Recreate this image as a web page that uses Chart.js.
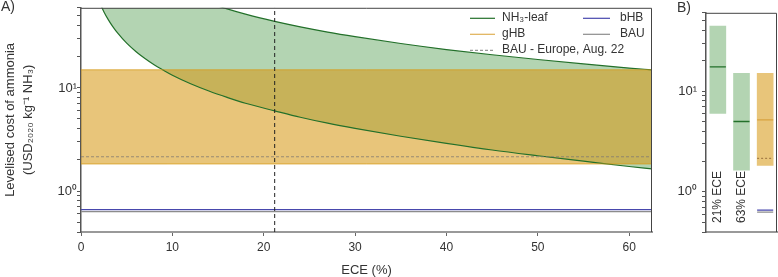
<!DOCTYPE html>
<html>
<head>
<meta charset="utf-8">
<script src="https://cdn.jsdelivr.net/npm/chart.js@4.4.1/dist/chart.umd.min.js"></script>
<style>
  html, body { margin: 0; padding: 0; background: #fff; }
  #wrap { position: relative; width: 778px; height: 277px; overflow: hidden; }
  canvas { position: absolute; top: 0; }
  #chartA { left: 0; }
  #chartB { left: 660px; }
</style>
</head>
<body>
<div id="wrap">
  <canvas id="chartA" width="660" height="277"></canvas>
  <canvas id="chartB" width="118" height="277"></canvas>
</div>
<script>
/* ===============================
   Data
================================ */
// panel A - NH3-leaf cost range vs ECE (%)
const ece      = [2, 2.5, 3, 3.5, 4, 5, 6, 7, 8, 9, 10, 12, 14, 16, 18, 21.2, 24, 27, 30, 35, 40, 45, 50, 55, 60, 62.5];
const leafLow  = [69, 55, 45.8, 39.2, 34.2, 27.2, 22.6, 19.3, 16.8, 14.9, 13.3, 11.0, 9.35, 8.1, 7.1, 6.0, 5.2, 4.55, 4.05, 3.4, 2.9, 2.5, 2.2, 1.95, 1.73, 1.64];
const leafHigh = [470, 376, 313, 268, 235, 188, 157, 134, 117, 104, 94, 78, 67, 58.5, 52, 44.3, 39.2, 34.9, 31.5, 27.0, 23.6, 21.0, 18.9, 17.1, 15.6, 15.0];
const eceSpan  = [0, 62.5];
const ghbRange = [1.83, 15];
const bauEurope = 2.15;
const bhb = 0.66;
const bau = 0.63;
const eceMarker = 21.2;

// axis ticks
const xTicks = [0, 10, 20, 30, 40, 50, 60];
const yTicks = [0.4, 0.5, 0.6, 0.7, 0.8, 0.9, 1, 2, 3, 4, 5, 6, 7, 8, 9, 10, 20, 30, 40, 50, 60];

// panel B - ranges at fixed ECE
const caseLabels  = ["21% ECE", "63% ECE"];
const leafBars    = [[6.0, 44.3], [1.64, 15.0]];
const leafMedians = [17.4, 5.0];
const ghbMedian   = 5.2;

/* ===============================
   Styles
================================ */
const greenFill  = "rgba(65,147,62,0.4)";
const greenLine  = "#23702a";
const orangeFill = "rgba(215,155,26,0.58)";
const orangeEdge = "rgba(215,155,26,0.75)";
const orangeLine = "#dfb055";
const blueLine   = "#4747ad";
const grayLine   = "#8c8c8c";
const dashGray   = "rgba(125,120,115,0.75)";
const txt = "#333";

Chart.defaults.font.family = '"Liberation Sans", Arial, sans-serif';
Chart.defaults.color = txt;

const supLabel = (v) => (v === 1 ? "10\u2070" : v === 10 ? "10\u00B9" : "");

function hLine(v, x0, x1) {
  return [{ x: x0, y: v }, { x: x1, y: v }];
}

// top + right border of the plot box
const frame = {
  id: "frame",
  afterDraw(chart) {
    const { ctx, chartArea: a } = chart;
    ctx.save();
    ctx.strokeStyle = "#444";
    ctx.lineWidth = 1;
    ctx.beginPath();
    ctx.moveTo(a.left, a.top + 0.5);
    ctx.lineTo(a.right - 0.5, a.top + 0.5);
    ctx.lineTo(a.right - 0.5, a.bottom);
    ctx.stroke();
    ctx.restore();
  },
};

function panelTag(text, x, y) {
  return {
    id: "tag" + text,
    afterDraw(chart) {
      const ctx = chart.ctx;
      ctx.save();
      ctx.font = '14px "Liberation Sans", Arial, sans-serif';
      ctx.fillStyle = txt;
      ctx.textBaseline = "top";
      ctx.fillText(text, x, y);
      ctx.restore();
    },
  };
}

/* ===============================
   Legend (inside panel A)
================================ */
const legendItems = [
  { label: "NH\u2083-leaf", color: greenLine, dash: [], col: 0, row: 0 },
  { label: "gHB", color: orangeLine, dash: [], col: 0, row: 1 },
  { label: "BAU - Europe, Aug. 22", color: "#999", dash: [3, 2], col: 0, row: 2 },
  { label: "bHB", color: blueLine, dash: [], col: 1, row: 0 },
  { label: "BAU", color: grayLine, dash: [], col: 1, row: 1 },
];

const insideLegend = {
  id: "insideLegend",
  afterDraw(chart) {
    const { ctx, chartArea: a } = chart;
    const colX = [a.right - 182, a.right - 69];
    const textGap = [32, 37];
    ctx.save();
    ctx.font = '12px "Liberation Sans", Arial, sans-serif';
    ctx.textBaseline = "middle";
    legendItems.forEach((it) => {
      const x = colX[it.col];
      const y = a.top + 10 + it.row * 16;
      ctx.strokeStyle = it.color;
      ctx.lineWidth = 1.2;
      ctx.setLineDash(it.dash);
      ctx.beginPath();
      ctx.moveTo(x, y + 0.5);
      ctx.lineTo(x + (it.col ? 27 : 25), y + 0.5);
      ctx.stroke();
      ctx.setLineDash([]);
      ctx.fillStyle = txt;
      ctx.fillText(it.label, x + textGap[it.col], y);
    });
    ctx.restore();
  },
};

/* ===============================
   Panel A
================================ */
const pts = (ys) => ece.map((x, i) => ({ x, y: ys[i] }));

new Chart(document.getElementById("chartA"), {
  type: "line",
  data: {
    datasets: [
      { data: pts(leafHigh), borderColor: greenLine, borderWidth: 1.2, backgroundColor: greenFill, fill: "+1", pointRadius: 0, cubicInterpolationMode: "monotone", order: 5 },
      { data: pts(leafLow), borderColor: greenLine, borderWidth: 1.2, pointRadius: 0, cubicInterpolationMode: "monotone", fill: false, order: 5 },
      { data: hLine(ghbRange[1], eceSpan[0], eceSpan[1]), borderColor: orangeEdge, borderWidth: 1, backgroundColor: orangeFill, fill: "+1", pointRadius: 0, order: 4 },
      { data: hLine(ghbRange[0], eceSpan[0], eceSpan[1]), borderColor: orangeEdge, borderWidth: 1, pointRadius: 0, fill: false, order: 4 },
      { data: hLine(bauEurope, eceSpan[0], eceSpan[1]), borderColor: dashGray, borderWidth: 1, borderDash: [3, 2], pointRadius: 0, order: 3 },
      { data: hLine(bhb, eceSpan[0], eceSpan[1]), borderColor: blueLine, borderWidth: 1.3, pointRadius: 0, order: 2 },
      { data: hLine(bau, eceSpan[0], eceSpan[1]), borderColor: grayLine, borderWidth: 1.3, pointRadius: 0, order: 2 },
      { data: [{ x: eceMarker, y: yTicks[0] }, { x: eceMarker, y: yTicks[yTicks.length - 1] }], borderColor: "#222", borderWidth: 1, borderDash: [4, 3], pointRadius: 0, order: 1 },
    ],
  },
  options: {
    responsive: false,
    animation: false,
    layout: { padding: { top: 1, right: 8, left: 0, bottom: 0 } },
    plugins: {
      legend: { display: false },
      tooltip: { enabled: false },
      filler: { drawTime: "beforeDatasetsDraw" },
    },
    scales: {
      x: {
        type: "linear",
        min: eceSpan[0],
        max: eceSpan[1],
        afterBuildTicks: (s) => { s.ticks = xTicks.map((v) => ({ value: v })); },
        ticks: { autoSkip: false, padding: 4, font: { size: 12 }, color: txt },
        grid: { drawOnChartArea: false, drawTicks: true, tickLength: 4, color: "#666" },
        border: { display: true, color: "#999", width: 2 },
        title: { display: true, text: "ECE (%)", font: { size: 13, lineHeight: 1.2 }, padding: { top: 0, bottom: -1 }, color: txt },
        afterFit: (s) => { s.height = 45; },
      },
      y: {
        type: "logarithmic",
        min: yTicks[0],
        max: yTicks[yTicks.length - 1],
        afterBuildTicks: (s) => { s.ticks = yTicks.map((v) => ({ value: v })); },
        ticks: { autoSkip: false, callback: supLabel, padding: 0, font: { size: 13 }, color: txt },
        grid: { drawOnChartArea: false, drawTicks: true, tickLength: 4, color: "#555" },
        border: { display: true, color: "#555", width: 1.5 },
        title: {
          display: true,
          text: ["Levelised cost of ammonia", "(USD\u2082\u2080\u2082\u2080 kg\u207B\u00B9 NH\u2083)"],
          font: { size: 13, lineHeight: 1.4 },
          padding: { top: 1, bottom: 0 },
          color: txt,
        },
        afterFit: (s) => { s.width = 81; },
      },
    },
  },
  plugins: [frame, insideLegend, panelTag("A)", 1, 0)],
});

/* ===============================
   Panel B
================================ */
const hw = 0.34; // half bar width in category units
function marks(xs, vals) {
  const out = [];
  xs.forEach((x, i) => {
    out.push({ x: x - hw, y: vals[i] }, { x: x + hw, y: vals[i] }, { x: x, y: null });
  });
  return out;
}

const caseText = {
  id: "caseText",
  afterDraw(chart) {
    const { ctx, chartArea: a, scales } = chart;
    ctx.save();
    ctx.font = '12px "Liberation Sans", Arial, sans-serif';
    ctx.fillStyle = txt;
    ctx.textAlign = "center";
    ctx.textBaseline = "middle";
    caseLabels.forEach((lab, i) => {
      ctx.save();
      ctx.translate(scales.x.getPixelForValue(i), a.bottom - 35);
      ctx.rotate(-Math.PI / 2);
      ctx.fillText(lab, 0, 0);
      ctx.restore();
    });
    ctx.restore();
  },
};

new Chart(document.getElementById("chartB"), {
  type: "bar",
  data: {
    datasets: [
      { data: leafBars.map((r, i) => ({ x: i, y: r })), backgroundColor: greenFill, barThickness: 16, grouped: false, order: 9 },
      { data: [{ x: 2, y: ghbRange }], backgroundColor: orangeFill, barThickness: 16, grouped: false, order: 9 },
      { type: "line", data: marks([0, 1], leafMedians), borderColor: greenLine, borderWidth: 1.3, pointRadius: 0, spanGaps: false, order: 1 },
      { type: "line", data: marks([2], [ghbMedian]), borderColor: "#d9a340", borderWidth: 1.3, pointRadius: 0, order: 1 },
      { type: "line", data: marks([2], [bauEurope]), borderColor: "rgba(150,110,60,0.8)", borderWidth: 1.2, borderDash: [2, 2], pointRadius: 0, order: 1 },
      { type: "line", data: marks([2], [bhb]), borderColor: blueLine, borderWidth: 1.3, pointRadius: 0, order: 1 },
      { type: "line", data: marks([2], [bau]), borderColor: grayLine, borderWidth: 1.3, pointRadius: 0, order: 1 },
    ],
  },
  options: {
    responsive: false,
    animation: false,
    layout: { padding: { top: 1, right: 1, left: 0, bottom: 0 } },
    plugins: { legend: { display: false }, tooltip: { enabled: false } },
    scales: {
      x: {
        type: "linear",
        min: -0.5,
        max: 2.5,
        offset: false,
        ticks: { display: false },
        grid: { display: false },
        border: { display: true, color: "#999", width: 2 },
        afterFit: (s) => { s.height = 45; },
      },
      y: {
        type: "logarithmic",
        min: yTicks[0],
        max: yTicks[yTicks.length - 1],
        afterBuildTicks: (s) => { s.ticks = yTicks.map((v) => ({ value: v })); },
        ticks: { autoSkip: false, callback: supLabel, padding: 5, font: { size: 13 }, color: txt },
        grid: { drawOnChartArea: false, drawTicks: true, tickLength: 4, color: "#555" },
        border: { display: true, color: "#555", width: 1.5 },
        afterFit: (s) => { s.width = 46; },
      },
    },
  },
  plugins: [frame, caseText, panelTag("B)", 17, 1)],
});
</script>
</body>
</html>
